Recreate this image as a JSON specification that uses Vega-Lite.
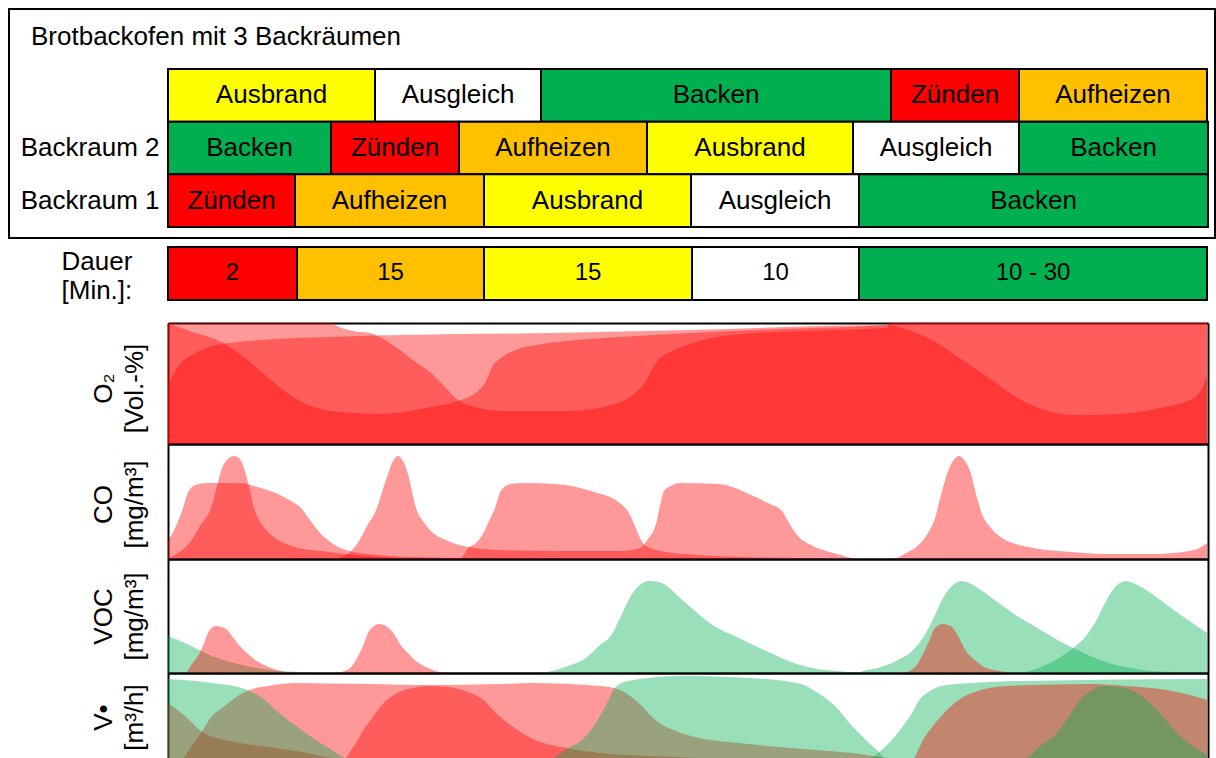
{
  "$schema": "https://vega.github.io/schema/vega-lite/v6.json",
  "padding": {"left": 8, "top": 8, "right": 2, "bottom": 0},
  "background": "white",
  "config": {
    "view": {"stroke": null},
    "font": "Liberation Sans",
    "axis": {"labelFont": "Liberation Sans", "titleFont": "Liberation Sans", "labelColor": "#000", "titleColor": "#000", "titleFontWeight": "normal", "grid": false},
    "text": {"font": "Liberation Sans", "color": "#000"}
  },
  "datasets": {
    "phasen": [
      {"raum": "Backraum 3", "phase": "Ausbrand", "start": 0, "end": 207},
      {"raum": "Backraum 3", "phase": "Ausgleich", "start": 207, "end": 373},
      {"raum": "Backraum 3", "phase": "Backen", "start": 373, "end": 723},
      {"raum": "Backraum 3", "phase": "Zünden", "start": 723, "end": 851},
      {"raum": "Backraum 3", "phase": "Aufheizen", "start": 851, "end": 1039},
      {"raum": "Backraum 2", "phase": "Backen", "start": 0, "end": 163},
      {"raum": "Backraum 2", "phase": "Zünden", "start": 163, "end": 291},
      {"raum": "Backraum 2", "phase": "Aufheizen", "start": 291, "end": 479},
      {"raum": "Backraum 2", "phase": "Ausbrand", "start": 479, "end": 685},
      {"raum": "Backraum 2", "phase": "Ausgleich", "start": 685, "end": 851},
      {"raum": "Backraum 2", "phase": "Backen", "start": 851, "end": 1040},
      {"raum": "Backraum 1", "phase": "Zünden", "start": 0, "end": 127},
      {"raum": "Backraum 1", "phase": "Aufheizen", "start": 127, "end": 316},
      {"raum": "Backraum 1", "phase": "Ausbrand", "start": 316, "end": 523},
      {"raum": "Backraum 1", "phase": "Ausgleich", "start": 523, "end": 691},
      {"raum": "Backraum 1", "phase": "Backen", "start": 691, "end": 1040}
    ],
    "dauer": [
      {"zeile": "Dauer", "phase": "Zünden", "label": "2", "start": 0, "end": 129},
      {"zeile": "Dauer", "phase": "Aufheizen", "label": "15", "start": 129, "end": 316},
      {"zeile": "Dauer", "phase": "Ausbrand", "label": "15", "start": 316, "end": 524},
      {"zeile": "Dauer", "phase": "Ausgleich", "label": "10", "start": 524, "end": 691},
      {"zeile": "Dauer", "phase": "Backen", "label": "10 - 30", "start": 691, "end": 1039}
    ],
    "o2": [
      {"s":"Backraum 1","x":0,"v":100},{"s":"Backraum 1","x":23,"v":93},{"s":"Backraum 1","x":54,"v":84},{"s":"Backraum 1","x":73,"v":73.5},{"s":"Backraum 1","x":88,"v":63.6},{"s":"Backraum 1","x":111,"v":47.1},{"s":"Backraum 1","x":138,"v":33.1},{"s":"Backraum 1","x":172,"v":26.4},{"s":"Backraum 1","x":213,"v":24.8},{"s":"Backraum 1","x":263,"v":30.6},{"s":"Backraum 1","x":290,"v":35.5},{"s":"Backraum 1","x":311,"v":44.6},{"s":"Backraum 1","x":318,"v":52},{"s":"Backraum 1","x":324,"v":63.6},{"s":"Backraum 1","x":333,"v":71},{"s":"Backraum 1","x":348,"v":77.7},{"s":"Backraum 1","x":373,"v":82.5},{"s":"Backraum 1","x":398,"v":85.1},{"s":"Backraum 1","x":453,"v":88.5},{"s":"Backraum 1","x":523,"v":91.7},{"s":"Backraum 1","x":613,"v":95},{"s":"Backraum 1","x":718,"v":98.3},{"s":"Backraum 1","x":723,"v":100},{"s":"Backraum 1","x":1039,"v":100},
      {"s":"Backraum 2","x":0,"v":100},{"s":"Backraum 2","x":163,"v":100},{"s":"Backraum 2","x":169,"v":97.5},{"s":"Backraum 2","x":185,"v":93.4},{"s":"Backraum 2","x":202,"v":91.7},{"s":"Backraum 2","x":229,"v":79.3},{"s":"Backraum 2","x":246,"v":68.6},{"s":"Backraum 2","x":263,"v":58.7},{"s":"Backraum 2","x":277,"v":47},{"s":"Backraum 2","x":290,"v":36.4},{"s":"Backraum 2","x":310,"v":30},{"s":"Backraum 2","x":331,"v":27.3},{"s":"Backraum 2","x":398,"v":27.3},{"s":"Backraum 2","x":440,"v":31.4},{"s":"Backraum 2","x":459,"v":37.2},{"s":"Backraum 2","x":476,"v":49.6},{"s":"Backraum 2","x":490,"v":69.4},{"s":"Backraum 2","x":500,"v":75},{"s":"Backraum 2","x":515,"v":80.5},{"s":"Backraum 2","x":535,"v":86},{"s":"Backraum 2","x":564,"v":90.1},{"s":"Backraum 2","x":640,"v":93.5},{"s":"Backraum 2","x":718,"v":95.9},{"s":"Backraum 2","x":723,"v":100},{"s":"Backraum 2","x":1039,"v":100},
      {"s":"Backraum 3","x":0,"v":49.6},{"s":"Backraum 3","x":5,"v":57},{"s":"Backraum 3","x":13,"v":66.9},{"s":"Backraum 3","x":26,"v":74.4},{"s":"Backraum 3","x":44,"v":81},{"s":"Backraum 3","x":94,"v":86},{"s":"Backraum 3","x":162,"v":88.4},{"s":"Backraum 3","x":233,"v":90},{"s":"Backraum 3","x":383,"v":91.7},{"s":"Backraum 3","x":523,"v":94.2},{"s":"Backraum 3","x":718,"v":98.3},{"s":"Backraum 3","x":725,"v":97.5},{"s":"Backraum 3","x":745,"v":93},{"s":"Backraum 3","x":769,"v":83.5},{"s":"Backraum 3","x":793,"v":70.2},{"s":"Backraum 3","x":821,"v":54.5},{"s":"Backraum 3","x":855,"v":35.5},{"s":"Backraum 3","x":906,"v":24},{"s":"Backraum 3","x":950,"v":24.8},{"s":"Backraum 3","x":992,"v":29.8},{"s":"Backraum 3","x":1026,"v":38},{"s":"Backraum 3","x":1036,"v":49.6},{"s":"Backraum 3","x":1039,"v":56}
    ],
    "co": [
      {"s":"Backraum 1","x":0,"v":0.9},{"s":"Backraum 1","x":13,"v":7},{"s":"Backraum 1","x":23,"v":15.7},{"s":"Backraum 1","x":33,"v":30},{"s":"Backraum 1","x":43,"v":44.3},{"s":"Backraum 1","x":49,"v":63.5},{"s":"Backraum 1","x":54,"v":79},{"s":"Backraum 1","x":60,"v":87},{"s":"Backraum 1","x":66,"v":89.6},{"s":"Backraum 1","x":72,"v":87},{"s":"Backraum 1","x":76,"v":79},{"s":"Backraum 1","x":81,"v":63.5},{"s":"Backraum 1","x":86,"v":44.3},{"s":"Backraum 1","x":93,"v":31.3},{"s":"Backraum 1","x":102,"v":21.7},{"s":"Backraum 1","x":116,"v":13.9},{"s":"Backraum 1","x":130,"v":9.6},{"s":"Backraum 1","x":153,"v":7},{"s":"Backraum 1","x":177,"v":4.3},{"s":"Backraum 1","x":213,"v":1.7},{"s":"Backraum 1","x":253,"v":0.4},{"s":"Backraum 1","x":286,"v":0.4},{"s":"Backraum 1","x":293,"v":0.9},{"s":"Backraum 1","x":300,"v":9.6},{"s":"Backraum 1","x":308,"v":14},{"s":"Backraum 1","x":315,"v":22},{"s":"Backraum 1","x":321,"v":33},{"s":"Backraum 1","x":327,"v":44.3},{"s":"Backraum 1","x":331,"v":55.7},{"s":"Backraum 1","x":335,"v":61.7},{"s":"Backraum 1","x":343,"v":65.2},{"s":"Backraum 1","x":355,"v":66.1},{"s":"Backraum 1","x":387,"v":65.2},{"s":"Backraum 1","x":423,"v":59.1},{"s":"Backraum 1","x":453,"v":47.8},{"s":"Backraum 1","x":461,"v":40},{"s":"Backraum 1","x":467,"v":28.7},{"s":"Backraum 1","x":472,"v":18.3},{"s":"Backraum 1","x":478,"v":11.3},{"s":"Backraum 1","x":492,"v":7},{"s":"Backraum 1","x":531,"v":3.5},{"s":"Backraum 1","x":573,"v":1.7},{"s":"Backraum 1","x":633,"v":0.9},{"s":"Backraum 1","x":673,"v":0},{"s":"Backraum 1","x":1039,"v":0},
      {"s":"Backraum 2","x":0,"v":0},{"s":"Backraum 2","x":163,"v":0},{"s":"Backraum 2","x":173,"v":1.7},{"s":"Backraum 2","x":181,"v":5.2},{"s":"Backraum 2","x":189,"v":13},{"s":"Backraum 2","x":199,"v":28.7},{"s":"Backraum 2","x":209,"v":44.3},{"s":"Backraum 2","x":215,"v":60.9},{"s":"Backraum 2","x":220,"v":73.9},{"s":"Backraum 2","x":225,"v":85.2},{"s":"Backraum 2","x":230,"v":89.6},{"s":"Backraum 2","x":235,"v":85.2},{"s":"Backraum 2","x":240,"v":73.9},{"s":"Backraum 2","x":244,"v":59.1},{"s":"Backraum 2","x":248,"v":44.3},{"s":"Backraum 2","x":255,"v":33},{"s":"Backraum 2","x":264,"v":23.5},{"s":"Backraum 2","x":278,"v":16.5},{"s":"Backraum 2","x":300,"v":10.4},{"s":"Backraum 2","x":333,"v":7.8},{"s":"Backraum 2","x":393,"v":7},{"s":"Backraum 2","x":453,"v":7},{"s":"Backraum 2","x":472,"v":9.6},{"s":"Backraum 2","x":480,"v":17.4},{"s":"Backraum 2","x":488,"v":30.4},{"s":"Backraum 2","x":493,"v":50.4},{"s":"Backraum 2","x":496,"v":59.1},{"s":"Backraum 2","x":503,"v":63.5},{"s":"Backraum 2","x":512,"v":66.1},{"s":"Backraum 2","x":551,"v":65.2},{"s":"Backraum 2","x":583,"v":55.7},{"s":"Backraum 2","x":602,"v":47.8},{"s":"Backraum 2","x":614,"v":41.7},{"s":"Backraum 2","x":620,"v":33},{"s":"Backraum 2","x":626,"v":24.3},{"s":"Backraum 2","x":633,"v":17.4},{"s":"Backraum 2","x":641,"v":13},{"s":"Backraum 2","x":669,"v":4.3},{"s":"Backraum 2","x":684,"v":0.9},{"s":"Backraum 2","x":693,"v":0},{"s":"Backraum 2","x":1039,"v":0},
      {"s":"Backraum 3","x":0,"v":15.7},{"s":"Backraum 3","x":8,"v":28.7},{"s":"Backraum 3","x":15,"v":44.3},{"s":"Backraum 3","x":19,"v":55.7},{"s":"Backraum 3","x":23,"v":61.7},{"s":"Backraum 3","x":31,"v":65.2},{"s":"Backraum 3","x":39,"v":66.1},{"s":"Backraum 3","x":70,"v":66.1},{"s":"Backraum 3","x":93,"v":61.7},{"s":"Backraum 3","x":110,"v":56.5},{"s":"Backraum 3","x":123,"v":50.4},{"s":"Backraum 3","x":133,"v":44.3},{"s":"Backraum 3","x":139,"v":37.4},{"s":"Backraum 3","x":145,"v":30.4},{"s":"Backraum 3","x":153,"v":21.7},{"s":"Backraum 3","x":161,"v":15.7},{"s":"Backraum 3","x":181,"v":7},{"s":"Backraum 3","x":209,"v":3.5},{"s":"Backraum 3","x":248,"v":1.7},{"s":"Backraum 3","x":303,"v":0.9},{"s":"Backraum 3","x":433,"v":0.4},{"s":"Backraum 3","x":533,"v":0},{"s":"Backraum 3","x":718,"v":0},{"s":"Backraum 3","x":728,"v":0.9},{"s":"Backraum 3","x":738,"v":5.2},{"s":"Backraum 3","x":747,"v":9.6},{"s":"Backraum 3","x":758,"v":20},{"s":"Backraum 3","x":767,"v":35.7},{"s":"Backraum 3","x":773,"v":55.7},{"s":"Backraum 3","x":779,"v":74},{"s":"Backraum 3","x":785,"v":85.2},{"s":"Backraum 3","x":791,"v":89.6},{"s":"Backraum 3","x":797,"v":85.2},{"s":"Backraum 3","x":803,"v":74},{"s":"Backraum 3","x":808,"v":56.5},{"s":"Backraum 3","x":814,"v":39.1},{"s":"Backraum 3","x":823,"v":27},{"s":"Backraum 3","x":834,"v":18.3},{"s":"Backraum 3","x":848,"v":13},{"s":"Backraum 3","x":865,"v":9.6},{"s":"Backraum 3","x":903,"v":6.1},{"s":"Backraum 3","x":944,"v":4.3},{"s":"Backraum 3","x":983,"v":4.3},{"s":"Backraum 3","x":1022,"v":7},{"s":"Backraum 3","x":1033,"v":10.4},{"s":"Backraum 3","x":1039,"v":14}
    ],
    "voc": [
      {"s":"Backraum 1","k":"Feuerung","x":0,"v":0},{"s":"Backraum 1","k":"Feuerung","x":17,"v":0},{"s":"Backraum 1","k":"Feuerung","x":24,"v":7.9},{"s":"Backraum 1","k":"Feuerung","x":31,"v":16.7},{"s":"Backraum 1","k":"Feuerung","x":36,"v":26},{"s":"Backraum 1","k":"Feuerung","x":41,"v":36.8},{"s":"Backraum 1","k":"Feuerung","x":48,"v":41.2},{"s":"Backraum 1","k":"Feuerung","x":53,"v":40.4},{"s":"Backraum 1","k":"Feuerung","x":58,"v":38.6},{"s":"Backraum 1","k":"Feuerung","x":64,"v":32.5},{"s":"Backraum 1","k":"Feuerung","x":70,"v":25.4},{"s":"Backraum 1","k":"Feuerung","x":78,"v":18.4},{"s":"Backraum 1","k":"Feuerung","x":86,"v":12.3},{"s":"Backraum 1","k":"Feuerung","x":96,"v":7},{"s":"Backraum 1","k":"Feuerung","x":106,"v":3.5},{"s":"Backraum 1","k":"Feuerung","x":118,"v":0.9},{"s":"Backraum 1","k":"Feuerung","x":128,"v":0},{"s":"Backraum 1","k":"Feuerung","x":1039,"v":0},
      {"s":"Backraum 2","k":"Feuerung","x":0,"v":0},{"s":"Backraum 2","k":"Feuerung","x":170,"v":0},{"s":"Backraum 2","k":"Feuerung","x":173,"v":0.9},{"s":"Backraum 2","k":"Feuerung","x":181,"v":3.5},{"s":"Backraum 2","k":"Feuerung","x":189,"v":13.2},{"s":"Backraum 2","k":"Feuerung","x":195,"v":23.7},{"s":"Backraum 2","k":"Feuerung","x":201,"v":36.8},{"s":"Backraum 2","k":"Feuerung","x":206,"v":41.2},{"s":"Backraum 2","k":"Feuerung","x":211,"v":43},{"s":"Backraum 2","k":"Feuerung","x":216,"v":42.1},{"s":"Backraum 2","k":"Feuerung","x":222,"v":38.6},{"s":"Backraum 2","k":"Feuerung","x":228,"v":31.6},{"s":"Backraum 2","k":"Feuerung","x":232,"v":25.4},{"s":"Backraum 2","k":"Feuerung","x":240,"v":17.5},{"s":"Backraum 2","k":"Feuerung","x":248,"v":10.5},{"s":"Backraum 2","k":"Feuerung","x":258,"v":5.3},{"s":"Backraum 2","k":"Feuerung","x":272,"v":0.9},{"s":"Backraum 2","k":"Feuerung","x":280,"v":0},{"s":"Backraum 2","k":"Feuerung","x":1039,"v":0},
      {"s":"Backraum 3","k":"Feuerung","x":0,"v":0},{"s":"Backraum 3","k":"Feuerung","x":735,"v":0},{"s":"Backraum 3","k":"Feuerung","x":739,"v":0.9},{"s":"Backraum 3","k":"Feuerung","x":748,"v":6.1},{"s":"Backraum 3","k":"Feuerung","x":755,"v":16.7},{"s":"Backraum 3","k":"Feuerung","x":761,"v":28},{"s":"Backraum 3","k":"Feuerung","x":767,"v":39.5},{"s":"Backraum 3","k":"Feuerung","x":775,"v":43},{"s":"Backraum 3","k":"Feuerung","x":780,"v":42.1},{"s":"Backraum 3","k":"Feuerung","x":785,"v":39.5},{"s":"Backraum 3","k":"Feuerung","x":791,"v":30.7},{"s":"Backraum 3","k":"Feuerung","x":798,"v":19.3},{"s":"Backraum 3","k":"Feuerung","x":808,"v":10.5},{"s":"Backraum 3","k":"Feuerung","x":818,"v":4.4},{"s":"Backraum 3","k":"Feuerung","x":838,"v":0.9},{"s":"Backraum 3","k":"Feuerung","x":845,"v":0},{"s":"Backraum 3","k":"Feuerung","x":1039,"v":0},
      {"s":"Backraum 1","k":"Backen","x":0,"v":0},{"s":"Backraum 1","k":"Backen","x":690,"v":0},{"s":"Backraum 1","k":"Backen","x":692,"v":0.9},{"s":"Backraum 1","k":"Backen","x":710,"v":4.4},{"s":"Backraum 1","k":"Backen","x":728,"v":10.5},{"s":"Backraum 1","k":"Backen","x":747,"v":21.9},{"s":"Backraum 1","k":"Backen","x":759,"v":36.8},{"s":"Backraum 1","k":"Backen","x":767,"v":50.9},{"s":"Backraum 1","k":"Backen","x":775,"v":65.8},{"s":"Backraum 1","k":"Backen","x":784,"v":76.3},{"s":"Backraum 1","k":"Backen","x":793,"v":80.7},{"s":"Backraum 1","k":"Backen","x":801,"v":78.9},{"s":"Backraum 1","k":"Backen","x":810,"v":74.6},{"s":"Backraum 1","k":"Backen","x":828,"v":63.2},{"s":"Backraum 1","k":"Backen","x":846,"v":51.8},{"s":"Backraum 1","k":"Backen","x":871,"v":38.6},{"s":"Backraum 1","k":"Backen","x":897,"v":25.4},{"s":"Backraum 1","k":"Backen","x":920,"v":15.8},{"s":"Backraum 1","k":"Backen","x":944,"v":7.9},{"s":"Backraum 1","k":"Backen","x":963,"v":4.4},{"s":"Backraum 1","k":"Backen","x":983,"v":1.8},{"s":"Backraum 1","k":"Backen","x":1010,"v":0.9},{"s":"Backraum 1","k":"Backen","x":1039,"v":0.4},
      {"s":"Backraum 2","k":"Backen","x":0,"v":32.5},{"s":"Backraum 2","k":"Backen","x":10,"v":29},{"s":"Backraum 2","k":"Backen","x":19,"v":25.4},{"s":"Backraum 2","k":"Backen","x":39,"v":16.7},{"s":"Backraum 2","k":"Backen","x":70,"v":7.9},{"s":"Backraum 2","k":"Backen","x":110,"v":1.8},{"s":"Backraum 2","k":"Backen","x":133,"v":0.9},{"s":"Backraum 2","k":"Backen","x":145,"v":0},{"s":"Backraum 2","k":"Backen","x":850,"v":0},{"s":"Backraum 2","k":"Backen","x":857,"v":0.9},{"s":"Backraum 2","k":"Backen","x":880,"v":7.9},{"s":"Backraum 2","k":"Backen","x":905,"v":21.9},{"s":"Backraum 2","k":"Backen","x":918,"v":32.5},{"s":"Backraum 2","k":"Backen","x":928,"v":45.6},{"s":"Backraum 2","k":"Backen","x":936,"v":59.6},{"s":"Backraum 2","k":"Backen","x":944,"v":71.9},{"s":"Backraum 2","k":"Backen","x":952,"v":78.9},{"s":"Backraum 2","k":"Backen","x":957,"v":80.7},{"s":"Backraum 2","k":"Backen","x":965,"v":78.9},{"s":"Backraum 2","k":"Backen","x":975,"v":74.6},{"s":"Backraum 2","k":"Backen","x":991,"v":64.9},{"s":"Backraum 2","k":"Backen","x":1007,"v":54.4},{"s":"Backraum 2","k":"Backen","x":1023,"v":44.7},{"s":"Backraum 2","k":"Backen","x":1039,"v":35.1},
      {"s":"Backraum 3","k":"Backen","x":0,"v":0},{"s":"Backraum 3","k":"Backen","x":370,"v":0},{"s":"Backraum 3","k":"Backen","x":379,"v":0.9},{"s":"Backraum 3","k":"Backen","x":400,"v":6.1},{"s":"Backraum 3","k":"Backen","x":418,"v":13.2},{"s":"Backraum 3","k":"Backen","x":433,"v":25.4},{"s":"Backraum 3","k":"Backen","x":442,"v":31.6},{"s":"Backraum 3","k":"Backen","x":453,"v":50},{"s":"Backraum 3","k":"Backen","x":464,"v":69.3},{"s":"Backraum 3","k":"Backen","x":472,"v":77.2},{"s":"Backraum 3","k":"Backen","x":480,"v":80.7},{"s":"Backraum 3","k":"Backen","x":488,"v":80.3},{"s":"Backraum 3","k":"Backen","x":496,"v":78},{"s":"Backraum 3","k":"Backen","x":512,"v":65.8},{"s":"Backraum 3","k":"Backen","x":527,"v":54.4},{"s":"Backraum 3","k":"Backen","x":543,"v":43},{"s":"Backraum 3","k":"Backen","x":571,"v":30.7},{"s":"Backraum 3","k":"Backen","x":598,"v":19.3},{"s":"Backraum 3","k":"Backen","x":629,"v":7.9},{"s":"Backraum 3","k":"Backen","x":650,"v":3.5},{"s":"Backraum 3","k":"Backen","x":669,"v":1.8},{"s":"Backraum 3","k":"Backen","x":692,"v":0.4},{"s":"Backraum 3","k":"Backen","x":700,"v":0},{"s":"Backraum 3","k":"Backen","x":1039,"v":0}
    ],
    "vf": [
      {"s":"Backraum 1","k":"Feuerung","x":0,"v":0},{"s":"Backraum 1","k":"Feuerung","x":13,"v":0},{"s":"Backraum 1","k":"Feuerung","x":23,"v":14},{"s":"Backraum 1","k":"Feuerung","x":33,"v":30.2},{"s":"Backraum 1","k":"Feuerung","x":44,"v":50},{"s":"Backraum 1","k":"Feuerung","x":54,"v":59.3},{"s":"Backraum 1","k":"Feuerung","x":67,"v":71},{"s":"Backraum 1","k":"Feuerung","x":81,"v":80.2},{"s":"Backraum 1","k":"Feuerung","x":100,"v":84.9},{"s":"Backraum 1","k":"Feuerung","x":128,"v":88.4},{"s":"Backraum 1","k":"Feuerung","x":200,"v":87.2},{"s":"Backraum 1","k":"Feuerung","x":263,"v":86},{"s":"Backraum 1","k":"Feuerung","x":333,"v":87.2},{"s":"Backraum 1","k":"Feuerung","x":365,"v":88.4},{"s":"Backraum 1","k":"Feuerung","x":432,"v":84.9},{"s":"Backraum 1","k":"Feuerung","x":446,"v":82.6},{"s":"Backraum 1","k":"Feuerung","x":458,"v":76.7},{"s":"Backraum 1","k":"Feuerung","x":466,"v":69.8},{"s":"Backraum 1","k":"Feuerung","x":475,"v":60.5},{"s":"Backraum 1","k":"Feuerung","x":483,"v":50},{"s":"Backraum 1","k":"Feuerung","x":493,"v":40.7},{"s":"Backraum 1","k":"Feuerung","x":503,"v":34.9},{"s":"Backraum 1","k":"Feuerung","x":523,"v":26.7},{"s":"Backraum 1","k":"Feuerung","x":581,"v":17.4},{"s":"Backraum 1","k":"Feuerung","x":684,"v":7},{"s":"Backraum 1","k":"Feuerung","x":735,"v":0},{"s":"Backraum 1","k":"Feuerung","x":1039,"v":0},
      {"s":"Backraum 2","k":"Feuerung","x":0,"v":0},{"s":"Backraum 2","k":"Feuerung","x":175,"v":0},{"s":"Backraum 2","k":"Feuerung","x":186,"v":15.1},{"s":"Backraum 2","k":"Feuerung","x":196,"v":34.9},{"s":"Backraum 2","k":"Feuerung","x":205,"v":48.8},{"s":"Backraum 2","k":"Feuerung","x":213,"v":61.6},{"s":"Backraum 2","k":"Feuerung","x":229,"v":76.7},{"s":"Backraum 2","k":"Feuerung","x":245,"v":82.6},{"s":"Backraum 2","k":"Feuerung","x":260,"v":84.9},{"s":"Backraum 2","k":"Feuerung","x":280,"v":83.7},{"s":"Backraum 2","k":"Feuerung","x":297,"v":79.1},{"s":"Backraum 2","k":"Feuerung","x":314,"v":69.8},{"s":"Backraum 2","k":"Feuerung","x":331,"v":50},{"s":"Backraum 2","k":"Feuerung","x":348,"v":34.9},{"s":"Backraum 2","k":"Feuerung","x":365,"v":23.3},{"s":"Backraum 2","k":"Feuerung","x":398,"v":12.8},{"s":"Backraum 2","k":"Feuerung","x":432,"v":7},{"s":"Backraum 2","k":"Feuerung","x":483,"v":3.5},{"s":"Backraum 2","k":"Feuerung","x":533,"v":1.2},{"s":"Backraum 2","k":"Feuerung","x":583,"v":0},{"s":"Backraum 2","k":"Feuerung","x":1039,"v":0},
      {"s":"Backraum 3","k":"Feuerung","x":0,"v":65.1},{"s":"Backraum 3","k":"Feuerung","x":17,"v":50},{"s":"Backraum 3","k":"Feuerung","x":33,"v":32.6},{"s":"Backraum 3","k":"Feuerung","x":61,"v":20.9},{"s":"Backraum 3","k":"Feuerung","x":94,"v":15.1},{"s":"Backraum 3","k":"Feuerung","x":128,"v":9.3},{"s":"Backraum 3","k":"Feuerung","x":179,"v":0},{"s":"Backraum 3","k":"Feuerung","x":745,"v":0},{"s":"Backraum 3","k":"Feuerung","x":750,"v":10},{"s":"Backraum 3","k":"Feuerung","x":755,"v":22},{"s":"Backraum 3","k":"Feuerung","x":765,"v":38.4},{"s":"Backraum 3","k":"Feuerung","x":780,"v":58.1},{"s":"Backraum 3","k":"Feuerung","x":792,"v":69.8},{"s":"Backraum 3","k":"Feuerung","x":804,"v":76.7},{"s":"Backraum 3","k":"Feuerung","x":838,"v":84.9},{"s":"Backraum 3","k":"Feuerung","x":923,"v":87.2},{"s":"Backraum 3","k":"Feuerung","x":957,"v":84.9},{"s":"Backraum 3","k":"Feuerung","x":992,"v":81.4},{"s":"Backraum 3","k":"Feuerung","x":1036,"v":69.8},{"s":"Backraum 3","k":"Feuerung","x":1039,"v":68.6},
      {"s":"Backraum 1","k":"Backen","x":0,"v":0},{"s":"Backraum 1","k":"Backen","x":698,"v":0},{"s":"Backraum 1","k":"Backen","x":718,"v":15.1},{"s":"Backraum 1","k":"Backen","x":735,"v":38.4},{"s":"Backraum 1","k":"Backen","x":744,"v":53.5},{"s":"Backraum 1","k":"Backen","x":752,"v":69.8},{"s":"Backraum 1","k":"Backen","x":762,"v":79.1},{"s":"Backraum 1","k":"Backen","x":773,"v":84.9},{"s":"Backraum 1","k":"Backen","x":804,"v":88.4},{"s":"Backraum 1","k":"Backen","x":855,"v":90.7},{"s":"Backraum 1","k":"Backen","x":1039,"v":93},
      {"s":"Backraum 2","k":"Backen","x":0,"v":93},{"s":"Backraum 2","k":"Backen","x":44,"v":88.4},{"s":"Backraum 2","k":"Backen","x":77,"v":81.4},{"s":"Backraum 2","k":"Backen","x":94,"v":70.9},{"s":"Backraum 2","k":"Backen","x":111,"v":53.5},{"s":"Backraum 2","k":"Backen","x":128,"v":38.4},{"s":"Backraum 2","k":"Backen","x":145,"v":24.4},{"s":"Backraum 2","k":"Backen","x":162,"v":11.6},{"s":"Backraum 2","k":"Backen","x":182,"v":0},{"s":"Backraum 2","k":"Backen","x":855,"v":0},{"s":"Backraum 2","k":"Backen","x":872,"v":15.1},{"s":"Backraum 2","k":"Backen","x":889,"v":30.2},{"s":"Backraum 2","k":"Backen","x":901,"v":50},{"s":"Backraum 2","k":"Backen","x":913,"v":69.8},{"s":"Backraum 2","k":"Backen","x":925,"v":80.2},{"s":"Backraum 2","k":"Backen","x":933,"v":84.9},{"s":"Backraum 2","k":"Backen","x":957,"v":82.6},{"s":"Backraum 2","k":"Backen","x":972,"v":74.4},{"s":"Backraum 2","k":"Backen","x":985,"v":61.6},{"s":"Backraum 2","k":"Backen","x":997,"v":46.5},{"s":"Backraum 2","k":"Backen","x":1009,"v":30.2},{"s":"Backraum 2","k":"Backen","x":1020,"v":18.6},{"s":"Backraum 2","k":"Backen","x":1036,"v":7},{"s":"Backraum 2","k":"Backen","x":1039,"v":4.7},
      {"s":"Backraum 3","k":"Backen","x":0,"v":0},{"s":"Backraum 3","k":"Backen","x":381,"v":0},{"s":"Backraum 3","k":"Backen","x":398,"v":11.6},{"s":"Backraum 3","k":"Backen","x":415,"v":23.3},{"s":"Backraum 3","k":"Backen","x":432,"v":50},{"s":"Backraum 3","k":"Backen","x":440,"v":67.4},{"s":"Backraum 3","k":"Backen","x":446,"v":81.4},{"s":"Backraum 3","k":"Backen","x":460,"v":90.7},{"s":"Backraum 3","k":"Backen","x":513,"v":96.5},{"s":"Backraum 3","k":"Backen","x":581,"v":94.2},{"s":"Backraum 3","k":"Backen","x":633,"v":87.2},{"s":"Backraum 3","k":"Backen","x":650,"v":76.7},{"s":"Backraum 3","k":"Backen","x":667,"v":61.6},{"s":"Backraum 3","k":"Backen","x":684,"v":38.4},{"s":"Backraum 3","k":"Backen","x":701,"v":18.6},{"s":"Backraum 3","k":"Backen","x":710,"v":9.3},{"s":"Backraum 3","k":"Backen","x":718,"v":0},{"s":"Backraum 3","k":"Backen","x":1039,"v":0}
    ]
  },
  "spacing": 0,
  "bounds": "flush",
  "vconcat": [
    {
      "width": 1206,
      "height": 229,
      "view": {"stroke": "#000", "strokeWidth": 2},
      "title": {"text": "Brotbackofen mit 3 Backräumen", "anchor": "start", "frame": "group", "dx": 22, "offset": -62, "baseline": "alphabetic", "fontSize": 26, "fontWeight": "normal", "font": "Liberation Sans", "color": "#000"},
      "data": {"name": "phasen"},
      "encoding": {
        "y": {"field": "raum", "type": "nominal",
          "scale": {"domain": ["Backraum 3", "Backraum 2", "Backraum 1"], "paddingInner": 0, "paddingOuter": 0.674, "align": 0.845},
          "axis": {"orient": "left", "offset": -159, "title": null, "domain": false, "ticks": false, "labelFontSize": 26, "labelPadding": 9, "labelExpr": "datum.value == 'Backraum 3' ? '' : datum.value"}}
      },
      "layer": [
        {
          "mark": {"type": "bar", "stroke": "#000", "strokeWidth": 2},
          "encoding": {
            "x": {"field": "start", "type": "quantitative", "scale": {"domain": [-159, 1047], "nice": false, "zero": false}, "axis": null},
            "x2": {"field": "end"},
            "color": {"field": "phase", "type": "nominal", "scale": {"domain": ["Zünden", "Aufheizen", "Ausbrand", "Ausgleich", "Backen"], "range": ["#FF0000", "#FFC000", "#FFFF00", "#FFFFFF", "#00B050"]}, "legend": null}
          }
        },
        {
          "transform": [{"calculate": "(datum.start + datum.end) / 2", "as": "mitte"}],
          "mark": {"type": "text", "fontSize": 26, "color": "#000"},
          "encoding": {
            "x": {"field": "mitte", "type": "quantitative", "scale": {"domain": [-159, 1047], "nice": false, "zero": false}, "axis": null},
            "text": {"field": "phase"}
          }
        }
      ]
    },
    {
      "width": 1206,
      "height": 85,
      "data": {"name": "dauer"},
      "encoding": {
        "y": {"field": "zeile", "type": "nominal", "scale": {"paddingInner": 0, "paddingOuter": 0.3019, "align": 0.28125},
          "axis": {"orient": "left", "offset": -159, "labels": false, "domain": false, "ticks": false, "title": ["Dauer", "[Min.]:"], "titleAngle": 0, "titleAlign": "left", "titleBaseline": "alphabetic", "titleX": -107, "titleY": 31, "titleFontSize": 26, "titleLineHeight": 29}}
      },
      "layer": [
        {
          "mark": {"type": "bar", "stroke": "#000", "strokeWidth": 2},
          "encoding": {
            "x": {"field": "start", "type": "quantitative", "scale": {"domain": [-159, 1047], "nice": false, "zero": false}, "axis": null},
            "x2": {"field": "end"},
            "color": {"field": "phase", "type": "nominal", "scale": {"domain": ["Zünden", "Aufheizen", "Ausbrand", "Ausgleich", "Backen"], "range": ["#FF0000", "#FFC000", "#FFFF00", "#FFFFFF", "#00B050"]}, "legend": null}
          }
        },
        {
          "transform": [{"calculate": "(datum.start + datum.end) / 2", "as": "mitte"}],
          "mark": {"type": "text", "fontSize": 24, "color": "#000"},
          "encoding": {
            "x": {"field": "mitte", "type": "quantitative", "scale": {"domain": [-159, 1047], "nice": false, "zero": false}, "axis": null},
            "text": {"field": "label"}
          }
        }
      ]
    },
    {
      "width": 1206,
      "height": 121,
      "data": {"name": "o2"},
      "encoding": {
        "x": {"field": "x", "type": "quantitative", "scale": {"domain": [-159, 1047], "nice": false, "zero": false},
          "axis": {"orient": "bottom", "values": [0], "grid": true, "gridColor": "#000", "gridWidth": 2, "gridOpacity": 1, "labels": false, "ticks": false, "domain": false, "title": null}},
        "y": {"field": "v", "type": "quantitative", "stack": null, "scale": {"domain": [0, 100], "nice": false},
          "axis": {"orient": "left", "offset": -1199, "values": [0, 100], "labels": false, "domain": true, "domainColor": "#000", "domainWidth": 2, "ticks": true, "tickSize": 1040, "tickColor": "#000", "tickWidth": 2, "title": ["O₂", "[Vol.-%]"], "titleAngle": 270, "titleAlign": "center", "titleBaseline": "alphabetic", "titleX": -1097, "titleY": 65, "titleFontSize": 26, "titleLineHeight": 31}}
      },
      "layer": [
        {"transform": [{"filter": "datum.s == 'Backraum 1'"}], "mark": {"type": "area", "color": "#FF0000", "opacity": 0.4, "interpolate": "monotone"}},
        {"transform": [{"filter": "datum.s == 'Backraum 2'"}], "mark": {"type": "area", "color": "#FF0000", "opacity": 0.4, "interpolate": "monotone"}},
        {"transform": [{"filter": "datum.s == 'Backraum 3'"}], "mark": {"type": "area", "color": "#FF0000", "opacity": 0.4, "interpolate": "monotone"}}
      ]
    },
    {
      "width": 1206,
      "height": 115,
      "data": {"name": "co"},
      "encoding": {
        "x": {"field": "x", "type": "quantitative", "scale": {"domain": [-159, 1047], "nice": false, "zero": false},
          "axis": {"orient": "bottom", "values": [0], "grid": true, "gridColor": "#000", "gridWidth": 2, "gridOpacity": 1, "labels": false, "ticks": false, "domain": false, "title": null}},
        "y": {"field": "v", "type": "quantitative", "stack": null, "scale": {"domain": [0, 100], "nice": false},
          "axis": {"orient": "left", "offset": -1199, "values": [0, 100], "labels": false, "domain": true, "domainColor": "#000", "domainWidth": 2, "ticks": true, "tickSize": 1040, "tickColor": "#000", "tickWidth": 2, "title": ["CO", "[mg/m³]"], "titleAngle": 270, "titleAlign": "center", "titleBaseline": "alphabetic", "titleX": -1097, "titleY": 60, "titleFontSize": 26, "titleLineHeight": 31}}
      },
      "layer": [
        {"transform": [{"filter": "datum.s == 'Backraum 1'"}], "mark": {"type": "area", "color": "#FF0000", "opacity": 0.4, "interpolate": "monotone"}},
        {"transform": [{"filter": "datum.s == 'Backraum 2'"}], "mark": {"type": "area", "color": "#FF0000", "opacity": 0.4, "interpolate": "monotone"}},
        {"transform": [{"filter": "datum.s == 'Backraum 3'"}], "mark": {"type": "area", "color": "#FF0000", "opacity": 0.4, "interpolate": "monotone"}}
      ]
    },
    {
      "width": 1206,
      "height": 114,
      "data": {"name": "voc"},
      "encoding": {
        "x": {"field": "x", "type": "quantitative", "scale": {"domain": [-159, 1047], "nice": false, "zero": false},
          "axis": {"orient": "bottom", "values": [0], "grid": true, "gridColor": "#000", "gridWidth": 2, "gridOpacity": 1, "labels": false, "ticks": false, "domain": false, "title": null}},
        "y": {"field": "v", "type": "quantitative", "stack": null, "scale": {"domain": [0, 100], "nice": false},
          "axis": {"orient": "left", "offset": -1199, "values": [0, 100], "labels": false, "domain": true, "domainColor": "#000", "domainWidth": 2, "ticks": true, "tickSize": 1040, "tickColor": "#000", "tickWidth": 2, "title": ["VOC", "[mg/m³]"], "titleAngle": 270, "titleAlign": "center", "titleBaseline": "alphabetic", "titleX": -1097, "titleY": 57, "titleFontSize": 26, "titleLineHeight": 31}}
      },
      "layer": [
        {"transform": [{"filter": "datum.s == 'Backraum 1' && datum.k == 'Backen'"}], "mark": {"type": "area", "color": "#00B050", "opacity": 0.4, "interpolate": "monotone"}},
        {"transform": [{"filter": "datum.s == 'Backraum 2' && datum.k == 'Backen'"}], "mark": {"type": "area", "color": "#00B050", "opacity": 0.4, "interpolate": "monotone"}},
        {"transform": [{"filter": "datum.s == 'Backraum 3' && datum.k == 'Backen'"}], "mark": {"type": "area", "color": "#00B050", "opacity": 0.4, "interpolate": "monotone"}},
        {"transform": [{"filter": "datum.s == 'Backraum 1' && datum.k == 'Feuerung'"}], "mark": {"type": "area", "color": "#FF0000", "opacity": 0.4, "interpolate": "monotone"}},
        {"transform": [{"filter": "datum.s == 'Backraum 2' && datum.k == 'Feuerung'"}], "mark": {"type": "area", "color": "#FF0000", "opacity": 0.4, "interpolate": "monotone"}},
        {"transform": [{"filter": "datum.s == 'Backraum 3' && datum.k == 'Feuerung'"}], "mark": {"type": "area", "color": "#FF0000", "opacity": 0.4, "interpolate": "monotone"}}
      ]
    },
    {
      "width": 1206,
      "height": 90,
      "data": {"name": "vf"},
      "encoding": {
        "x": {"field": "x", "type": "quantitative", "scale": {"domain": [-159, 1047], "nice": false, "zero": false},
          "axis": {"orient": "bottom", "values": [0], "grid": true, "gridColor": "#000", "gridWidth": 2, "gridOpacity": 1, "labels": false, "ticks": false, "domain": false, "title": null}},
        "y": {"field": "v", "type": "quantitative", "stack": null, "scale": {"domain": [-4.65, 100], "nice": false, "zero": false},
          "axis": {"orient": "left", "offset": -1199, "values": [100], "labels": false, "domain": true, "domainColor": "#000", "domainWidth": 2, "ticks": true, "tickSize": 1040, "tickColor": "#000", "tickWidth": 2, "title": ["V•", "[m³/h]"], "titleAngle": 270, "titleAlign": "center", "titleBaseline": "alphabetic", "titleX": -1097, "titleY": 44, "titleFontSize": 26, "titleLineHeight": 31}}
      },
      "layer": [
        {"transform": [{"filter": "datum.s == 'Backraum 1' && datum.k == 'Backen'"}], "mark": {"type": "area", "color": "#00B050", "opacity": 0.4, "interpolate": "monotone"}},
        {"transform": [{"filter": "datum.s == 'Backraum 1' && datum.k == 'Feuerung'"}], "mark": {"type": "area", "color": "#FF0000", "opacity": 0.4, "interpolate": "monotone"}},
        {"transform": [{"filter": "datum.s == 'Backraum 2' && datum.k == 'Feuerung'"}], "mark": {"type": "area", "color": "#FF0000", "opacity": 0.4, "interpolate": "monotone"}},
        {"transform": [{"filter": "datum.s == 'Backraum 3' && datum.k == 'Feuerung'"}], "mark": {"type": "area", "color": "#FF0000", "opacity": 0.4, "interpolate": "monotone"}},
        {"transform": [{"filter": "datum.s == 'Backraum 2' && datum.k == 'Backen'"}], "mark": {"type": "area", "color": "#00B050", "opacity": 0.4, "interpolate": "monotone"}},
        {"transform": [{"filter": "datum.s == 'Backraum 3' && datum.k == 'Backen'"}], "mark": {"type": "area", "color": "#00B050", "opacity": 0.4, "interpolate": "monotone"}}
      ]
    }
  ]
}
